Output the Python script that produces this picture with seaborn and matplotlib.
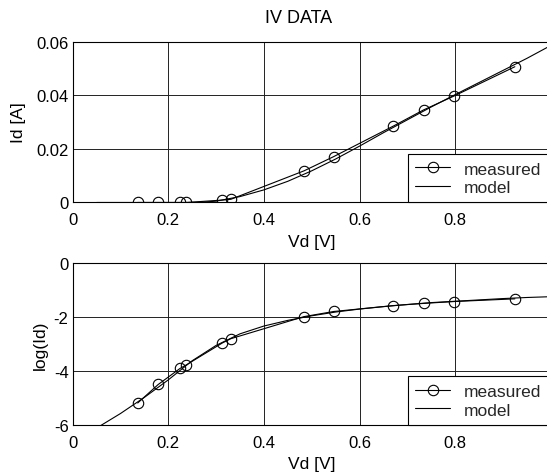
import numpy as np
import pandas as pd
import matplotlib
matplotlib.use('Agg')
import matplotlib.pyplot as plt
import seaborn as sns
from matplotlib.ticker import FuncFormatter

# measured points
vd_meas = [0.136, 0.179, 0.225, 0.238, 0.313, 0.331, 0.484, 0.546, 0.671, 0.734, 0.798, 0.925]
id_meas = [0.0, 0.0, 0.0, 0.0, 0.0009, 0.0012, 0.0118, 0.0171, 0.0285, 0.0345, 0.0397, 0.0506]
logid_meas = [-5.19, -4.50, -3.90, -3.77, -2.96, -2.80, -1.98, -1.79, -1.57, -1.49, -1.42, -1.32]

# model curve
vd_model_lin = [0.05, 0.24, 0.27, 0.30, 0.35, 0.40, 0.45, 0.50, 0.55, 0.60,
                0.65, 0.70, 0.75, 0.80, 0.85, 0.90, 0.95, 1.00]
id_model = [0.0, 0.0, 0.0001, 0.0005, 0.0022, 0.0047, 0.0079, 0.0118, 0.0162, 0.0210,
            0.0260, 0.0308, 0.0356, 0.0402, 0.0447, 0.0492, 0.0537, 0.0585]
vd_model_log = [0.05, 0.10, 0.15, 0.20, 0.25, 0.30, 0.35, 0.40, 0.45, 0.50,
                0.55, 0.60, 0.65, 0.70, 0.75, 0.80, 0.85, 0.90, 0.95, 1.00]
logid_model = [-6.12, -5.58, -4.98, -4.33, -3.62, -3.05, -2.62, -2.33, -2.12, -1.95,
               -1.81, -1.70, -1.61, -1.53, -1.46, -1.41, -1.36, -1.31, -1.27, -1.24]

sns.set_theme(style='whitegrid')
plt.rcParams['font.family'] = ['Liberation Sans', 'DejaVu Sans']
plt.rcParams['axes.unicode_minus'] = False

fig = plt.figure(figsize=(5.47, 4.77), dpi=100)
fig.patch.set_facecolor('white')
ax1 = fig.add_axes([0.1329, 0.5734, 0.8739, 0.3375])
ax2 = fig.add_axes([0.1329, 0.1073, 0.8739, 0.3386])

tick_fs = 12
lab_fs = 12.5
meas_kw = dict(color='black', linewidth=0.8, marker='o', markersize=7.5,
               markerfacecolor='none', markeredgecolor='black', markeredgewidth=0.8)

def style(ax, ylim, yticks):
    ax.set_xlim(0, 1)
    ax.set_ylim(*ylim)
    ax.set_xticks([0, 0.2, 0.4, 0.6, 0.8])
    ax.set_yticks(yticks)
    fmt = FuncFormatter(lambda v, p: '%g' % round(v, 4))
    ax.xaxis.set_major_formatter(fmt)
    ax.yaxis.set_major_formatter(fmt)
    ax.set_facecolor('white')
    ax.grid(True, color='#222222', linewidth=0.7)
    for s in ax.spines.values():
        s.set_color('black')
        s.set_linewidth(0.8)
    ax.tick_params(axis='x', labelsize=tick_fs, pad=7, length=0, colors='black')
    ax.tick_params(axis='y', labelsize=tick_fs, pad=3, length=0, colors='black')
    ax.set_xlabel('Vd [V]', fontsize=lab_fs, labelpad=5, color='black')
    leg = ax.legend(loc='lower left', bbox_to_anchor=(0.7015, 0.0), borderaxespad=0,
                    frameon=True, fancybox=False, framealpha=1, edgecolor='black',
                    fontsize=lab_fs, handlelength=2.0, handletextpad=0.8,
                    borderpad=0.42, labelspacing=0.2)
    leg.get_frame().set_linewidth(0.8)

# top: linear current
sns.lineplot(x=vd_meas, y=id_meas, ax=ax1, estimator=None, sort=False,
             label='measured', **meas_kw)
sns.lineplot(x=vd_model_lin, y=id_model, ax=ax1, estimator=None, sort=False,
             color='black', linewidth=0.8, label='model')
style(ax1, (0, 0.06), [0, 0.02, 0.04, 0.06])
ax1.set_ylabel('Id [A]', fontsize=lab_fs, color='black')
ax1.yaxis.set_label_coords(-0.097, 0.5)
ax1.set_title('IV DATA', fontsize=13, x=0.472, pad=14, color='black')

# bottom: log current
sns.lineplot(x=vd_meas, y=logid_meas, ax=ax2, estimator=None, sort=False,
             label='measured', **meas_kw)
sns.lineplot(x=vd_model_log, y=logid_model, ax=ax2, estimator=None, sort=False,
             color='black', linewidth=0.8, label='model')
style(ax2, (-6, 0), [-6, -4, -2, 0])
ax2.set_ylabel('log(Id)', fontsize=lab_fs, color='black')
ax2.yaxis.set_label_coords(-0.052, 0.5)

fig.savefig('out.png', dpi=100)
